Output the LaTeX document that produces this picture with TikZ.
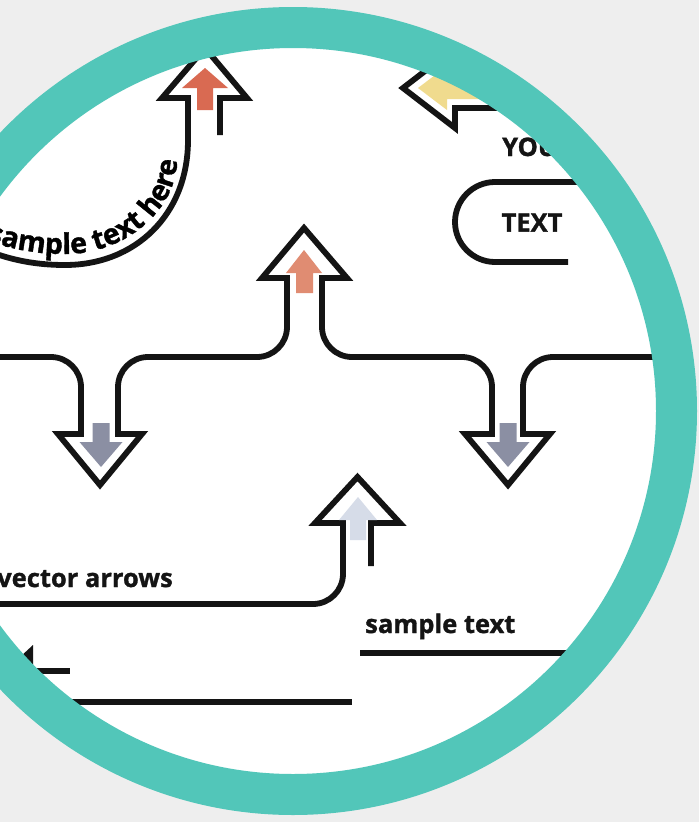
\documentclass[tikz,border=0pt]{standalone}
\usepackage{fontspec}
\setmainfont{Open Sans}[BoldFeatures={FakeBold=1.2}]
\usetikzlibrary{decorations.text}
\definecolor{ringteal}{RGB}{82,198,185}
\definecolor{bgc}{RGB}{238,238,238}
\definecolor{inkc}{RGB}{20,20,20}
\definecolor{salmonA}{RGB}{217,106,82}
\definecolor{salmonB}{RGB}{224,140,114}
\definecolor{grayc}{RGB}{139,143,163}
\definecolor{lightc}{RGB}{214,220,232}
\definecolor{yellowc}{RGB}{240,219,142}
\newcommand\curvefont{\bfseries\fontsize{28.5}{28.5}\selectfont}
\begin{document}
\begin{tikzpicture}[x=1pt,y=-1pt,
  ink/.style={draw=inkc, line width=5.8pt, line join=miter, miter limit=10},
  rule/.style={draw=inkc, line width=6pt},
  lbl/.style={font=\bfseries\fontsize{25.5}{25.5}\selectfont, text=inkc, inner sep=0pt}]
\useasboundingbox (0,0) rectangle (699,822);
\fill[bgc] (0,0) rectangle (699,822);
\coordinate (c) at (293,411);
\fill[white] (c) circle[radius=384pt];
\begin{scope}
\clip (c) circle[radius=366pt];
% top-left curved arrow
\draw[ink] (-20,248) .. controls (5,258) and (30,265) .. (65,265)
  .. controls (135,265) and (188,215) .. (188,140) -- (188,98) -- (162,98)
  -- (205,48) -- (247,98) -- (220,98) -- (220,135);
\fill[salmonA] (205,68) -- (228,88) -- (213,88) -- (213,110) -- (197,110)
  -- (197,88) -- (182,88) -- cycle;
\path[decorate, decoration={text along path,
  text={|\curvefont|sample text here}, text align={right, right indent=0pt}}]
  (-60,222) .. controls (-10,246) and (30,254) .. (65,254)
  .. controls (127,254) and (177,208) .. (177,160);
% yellow arrow
\draw[ink] (620,66) -- (455,66) -- (455,48) -- (403,88) -- (455,128)
  -- (455,108) -- (620,108);
\fill[yellowc] (418,88) -- (447,66) -- (447,77) -- (560,77) -- (560,99)
  -- (447,99) -- (447,110) -- cycle;
\node[lbl, anchor=base west] (you) at (502,156) {YOU};
% bracket
\draw[ink] (620,182) -- (495,182) .. controls (473,182) and (455,200) .. (455,222)
  .. controls (455,244) and (473,262) .. (495,262) -- (568,262);
\node[lbl] (text) at (532,222.5) {TEXT};
% branching arrows
\draw[ink] (-10,357) -- (51,357) .. controls (67.5,357) and (81,370.5) .. (81,387)
  -- (81,434) -- (58,434) -- (100,485) -- (142,434) -- (118,434) -- (118,387)
  .. controls (118,370.5) and (131.5,357) .. (148,357) -- (257,357)
  .. controls (273.5,357) and (287,343.5) .. (287,327) -- (287,278) -- (262,278)
  -- (304,228) -- (347,278) -- (322,278) -- (322,327)
  .. controls (322,343.5) and (335.5,357) .. (352,357) -- (462,357)
  .. controls (478.5,357) and (492,370.5) .. (492,387) -- (492,434) -- (465,434)
  -- (508,485) -- (550,434) -- (523,434) -- (523,387)
  .. controls (523,370.5) and (536.5,357) .. (553,357) -- (710,357);
\fill[grayc] (101,467) -- (79.5,442) -- (92.5,442) -- (92.5,423) -- (109.5,423)
  -- (109.5,442) -- (122.5,442) -- cycle;
\fill[grayc] (508,467) -- (486.5,442) -- (499.5,442) -- (499.5,423) -- (516.5,423)
  -- (516.5,442) -- (529.5,442) -- cycle;
\fill[salmonB] (304,250) -- (322,273) -- (313,273) -- (313,293) -- (296,293)
  -- (296,273) -- (286,273) -- cycle;
% lower arrow
\draw[ink] (-10,604) -- (313,604) .. controls (329.5,604) and (343,590.5) .. (343,574)
  -- (343,523) -- (315,523) -- (357.5,477) -- (400,523) -- (371,523) -- (371,566);
\fill[lightc] (358,497) -- (377,520) -- (366,520) -- (366,540) -- (350,540)
  -- (350,520) -- (339,520) -- cycle;
\node[lbl, anchor=base east] (va) at (173,587) {vector arrows};
% sample text
\node[lbl, anchor=base west] (st) at (365,633) {sample text};
\draw[rule] (360,653) -- (640,653);
% bottom-left arrow and line
\fill[inkc] (33,645) -- (33,697) -- (5,671) -- cycle;
\draw[rule] (33,671) -- (70,671);
\draw[rule] (-10,702) -- (352,702);
\end{scope}
\draw[ringteal, line width=41pt] (c) circle[radius=383.5pt];
\end{tikzpicture}
\end{document}
